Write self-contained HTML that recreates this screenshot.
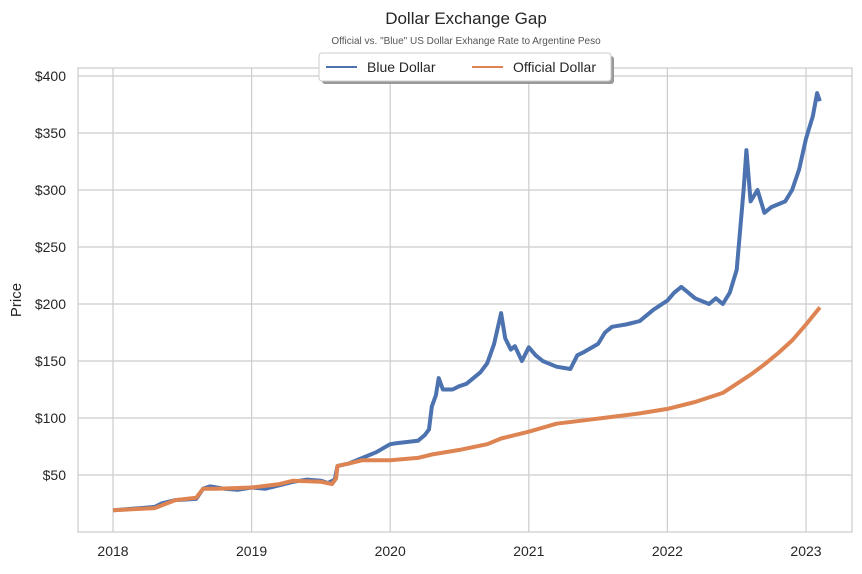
<!DOCTYPE html>
<html><head><meta charset="utf-8"><style>
body{margin:0;background:#fff;font-family:"Liberation Sans",sans-serif}
svg text{font-family:"Liberation Sans",sans-serif;fill:#262626}
</style></head><body>
<svg id="chart" width="862" height="569" xmlns="http://www.w3.org/2000/svg">
<text x="466" y="24" text-anchor="middle" font-size="17">Dollar Exchange Gap</text>
<text x="466" y="44" text-anchor="middle" font-size="10" style="fill:#555">Official vs. "Blue" US Dollar Exhange Rate to Argentine Peso</text>
<rect x="78" y="68" width="774" height="464" fill="#fff" stroke="#ccc" stroke-width="1.2"/>
<g id="grid"></g><g id="series"></g>
<text transform="translate(21,300) rotate(-90)" text-anchor="middle" font-size="15">Price</text>
<g>
<rect x="322" y="56" width="292" height="28" fill="#999" rx="3"/>
<rect x="319" y="53" width="292" height="28" fill="#fff" stroke="#ccc" rx="3"/>
<line x1="326" y1="67" x2="357" y2="67" stroke="#4c72b0" stroke-width="2"/>
<text x="367" y="72" font-size="14">Blue Dollar</text>
<line x1="472" y1="67" x2="503" y2="67" stroke="#dd8452" stroke-width="2"/>
<text x="513" y="72" font-size="14">Official Dollar</text>
</g>
</svg>
<script>
const blueDates=[2018.0,2018.2,2018.3,2018.35,2018.45,2018.6,2018.65,2018.7,2018.8,2018.9,2019.0,2019.1,2019.2,2019.3,2019.4,2019.5,2019.55,2019.6,2019.62,2019.7,2019.8,2019.9,2020.0,2020.05,2020.2,2020.25,2020.28,2020.3,2020.33,2020.35,2020.38,2020.45,2020.5,2020.55,2020.6,2020.65,2020.7,2020.75,2020.8,2020.83,2020.87,2020.9,2020.95,2021.0,2021.05,2021.1,2021.2,2021.3,2021.35,2021.4,2021.5,2021.55,2021.6,2021.7,2021.8,2021.9,2022.0,2022.05,2022.1,2022.15,2022.2,2022.3,2022.35,2022.4,2022.45,2022.5,2022.55,2022.57,2022.6,2022.65,2022.7,2022.75,2022.85,2022.9,2022.95,2023.0,2023.05,2023.08,2023.1];
const blueValues=[19,21,22,25,28,29,38,40,38,37,39,38,41,44,46,45,43,46,58,60,65,70,77,78,80,85,90,110,120,135,125,125,128,130,135,140,148,165,192,170,160,163,150,162,155,150,145,143,155,158,165,175,180,182,185,195,203,210,215,210,205,200,205,200,210,230,300,335,290,300,280,285,290,300,318,345,365,385,378];
const offDates=[2018.0,2018.3,2018.45,2018.6,2018.65,2018.75,2019.0,2019.2,2019.3,2019.5,2019.58,2019.61,2019.62,2019.7,2019.8,2020.0,2020.2,2020.3,2020.5,2020.7,2020.8,2021.0,2021.2,2021.4,2021.6,2021.8,2022.0,2022.2,2022.4,2022.5,2022.6,2022.7,2022.8,2022.9,2023.0,2023.1];
const offValues=[19,21,28,30,38,38,39,42,45,44,42,47,58,60,63,63,65,68,72,77,82,88,95,98,101,104,108,114,122,130,138,147,157,168,182,197];
const yTicks=[50,100,150,200,250,300,350,400];
const xTicks=[2018,2019,2020,2021,2022,2023];
const NS="http://www.w3.org/2000/svg";
const x=v=>113+(v-2018)*138.6;
const y=v=>532-v*1.14;
const grid=document.getElementById('grid'),ser=document.getElementById('series');
function mk(tag,attrs,parent){const e=document.createElementNS(NS,tag);for(const k in attrs)e.setAttribute(k,attrs[k]);parent.appendChild(e);return e;}
yTicks.forEach(t=>{
 const l=mk('line',{x1:78,x2:852,y1:y(t),y2:y(t),stroke:'#ccc','stroke-width':1.2},grid);
 
 
 const tx=mk('text',{x:66,y:y(t)+5,'text-anchor':'end','font-size':14},grid);tx.textContent='$'+t;
 
 
});
xTicks.forEach(t=>{
 const l=mk('line',{x1:x(t),x2:x(t),y1:68,y2:532,stroke:'#ccc','stroke-width':1.2},grid);
 
 
 const tx=mk('text',{x:x(t),y:556,'text-anchor':'middle','font-size':14},grid);tx.textContent=t;
 
 
});
function line(d,v,c,name){
 const p=mk('path',{d:d.map((t,i)=>(i?'L':'M')+x(t).toFixed(1)+','+y(v[i]).toFixed(1)).join(''),fill:'none',stroke:c,'stroke-width':4,'stroke-linejoin':'round'},ser);
 
 
}
line(blueDates,blueValues,'#4c72b0','blue-dollar-line');
line(offDates,offValues,'#dd8452','official-dollar-line');
</script>
</body></html>
